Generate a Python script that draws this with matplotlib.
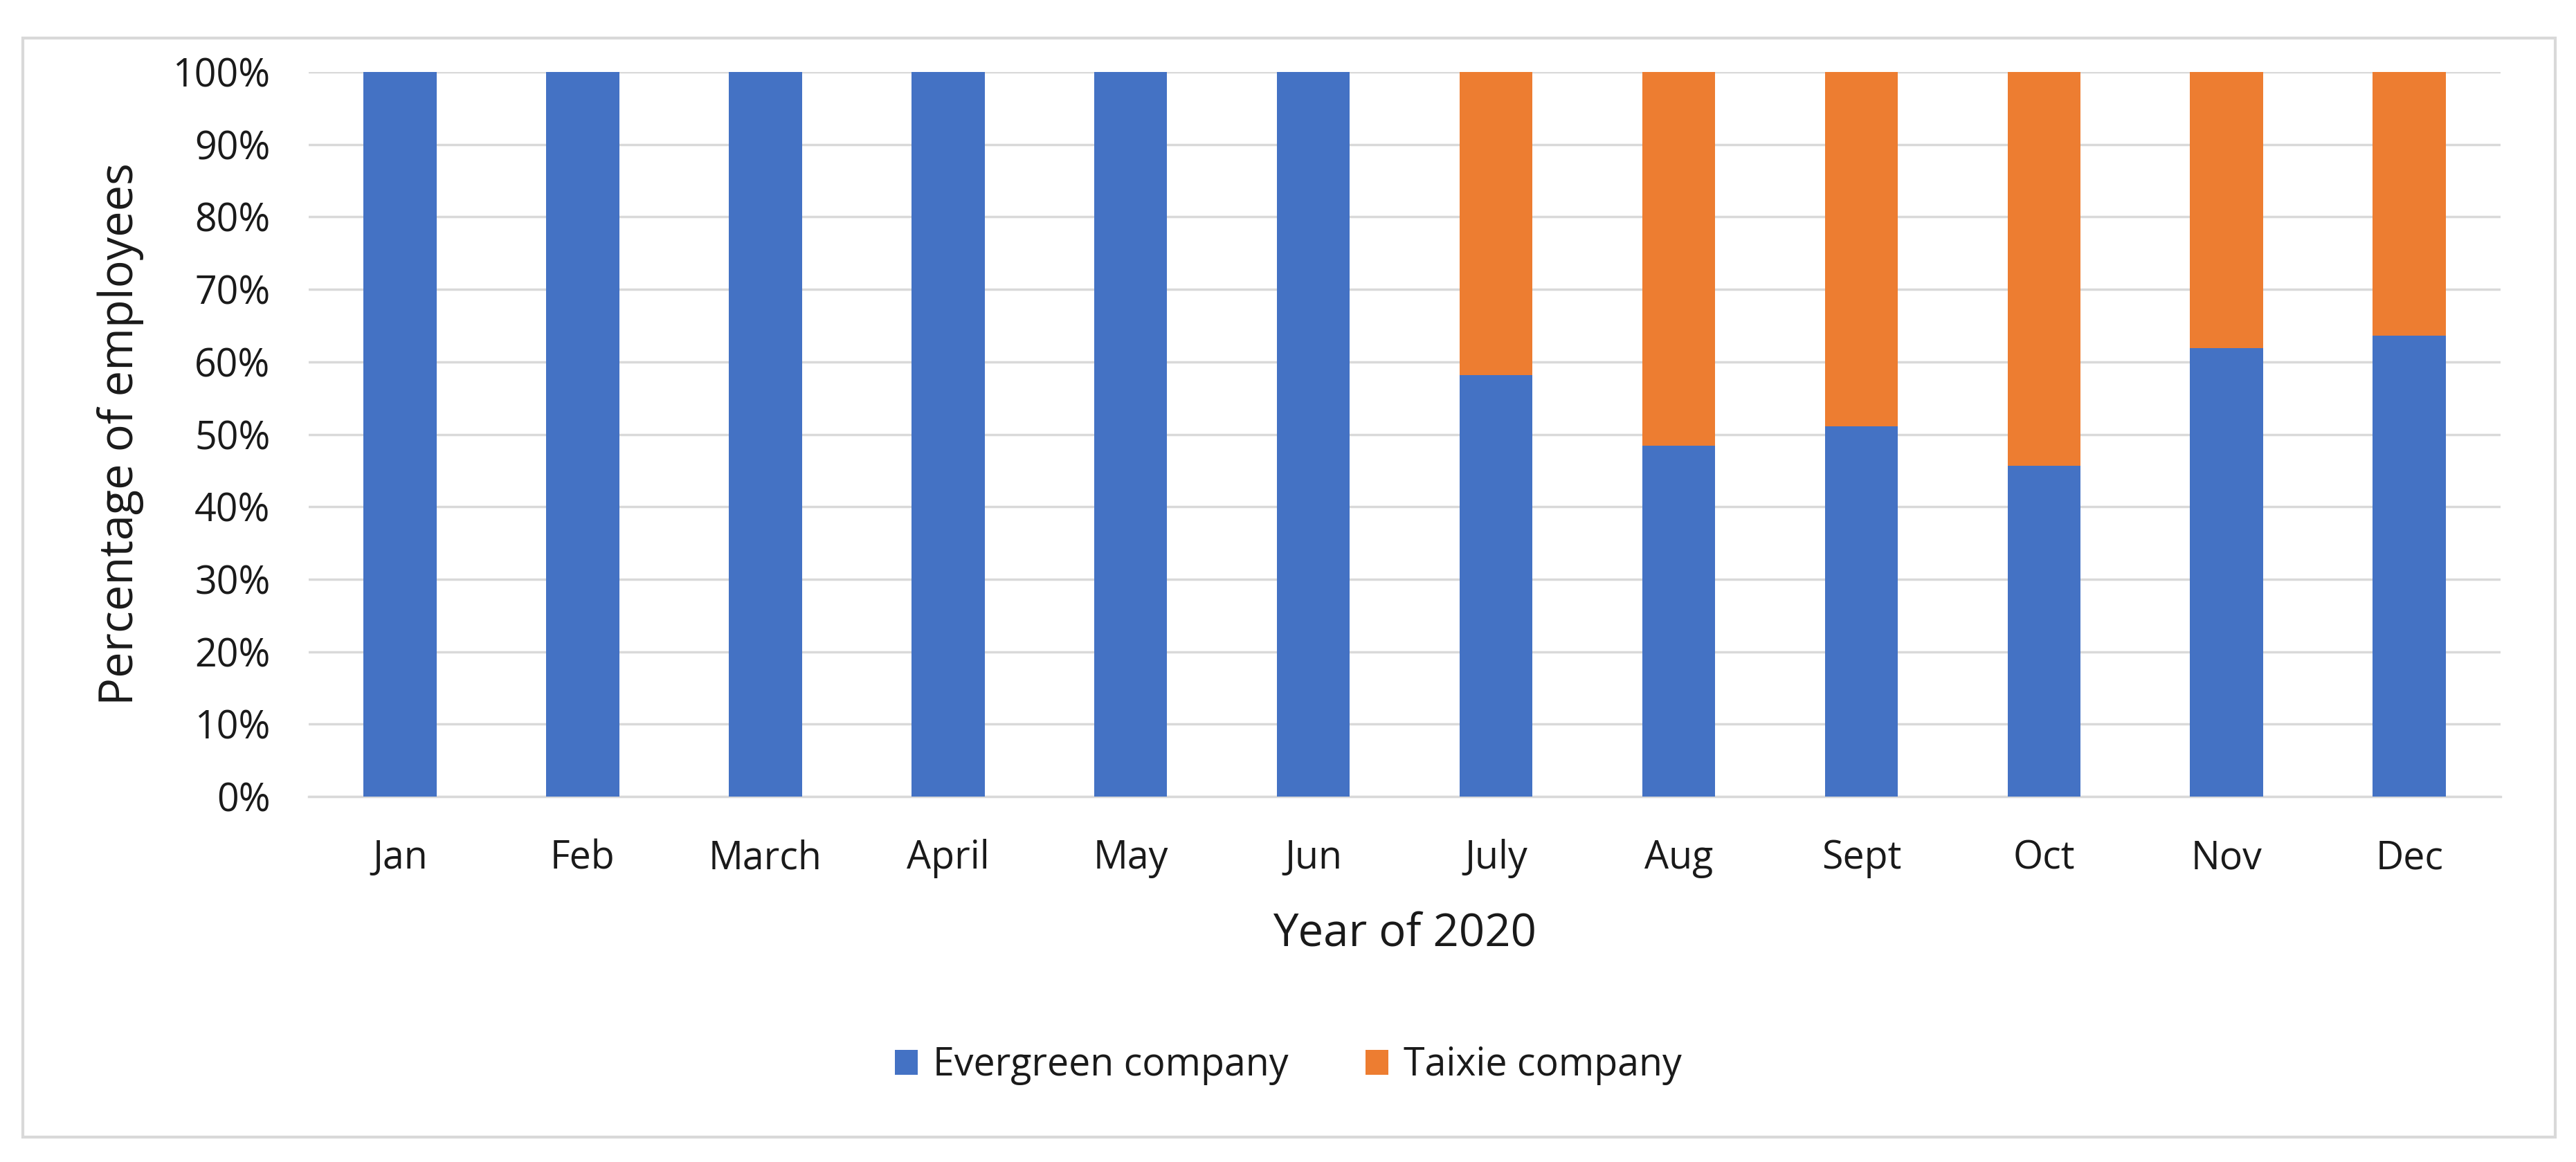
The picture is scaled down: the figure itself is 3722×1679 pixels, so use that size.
import matplotlib
matplotlib.use("Agg")
import matplotlib.pyplot as plt
from matplotlib.patches import Rectangle
from matplotlib.ticker import FuncFormatter

months = ["Jan", "Feb", "March", "April", "May", "Jun", "July", "Aug", "Sept", "Oct", "Nov", "Dec"]
evergreen = [100, 100, 100, 100, 100, 100, 58.2, 48.4, 51.1, 45.7, 61.9, 63.6]
taixie = [0, 0, 0, 0, 0, 0, 41.8, 51.6, 48.9, 54.3, 38.1, 36.4]
series_names = ["Evergreen company", "Taixie company"]
yticks = [0, 10, 20, 30, 40, 50, 60, 70, 80, 90, 100]

plt.rcParams['font.family'] = ['Open Sans', 'DejaVu Sans']
BLUE = "#4472C4"
ORANGE = "#ED7D31"
TXT = "#1A1A1A"
GRID = "#D9D9D9"

fig = plt.figure(figsize=(37.23, 16.79), dpi=100)
ax = fig.add_axes([0.1198, 0.3145, 0.8507, 0.6235])

x = list(range(len(months)))
ax.bar(x, evergreen, width=0.4, color=BLUE, label=series_names[0], zorder=3)
ax.bar(x, taixie, width=0.4, bottom=evergreen, color=ORANGE, label=series_names[1], zorder=3)

ax.set_xlim(-0.5, len(months) - 0.5)
ax.set_ylim(0, 100)
ax.set_yticks(yticks)
ax.yaxis.set_major_formatter(FuncFormatter(lambda v, p: f"{int(v)}%"))
ax.set_xticks(x)
ax.set_xticklabels(months)
ax.tick_params(axis='both', length=0, labelsize=40, colors=TXT)
ax.tick_params(axis='x', pad=44)
ax.tick_params(axis='y', pad=40)
ax.grid(axis='y', color=GRID, linewidth=2.5, zorder=0)
ax.set_axisbelow(True)
for s in ["top", "right", "left"]:
    ax.spines[s].set_visible(False)
ax.spines["bottom"].set_color(GRID)
ax.spines["bottom"].set_linewidth(2.5)

ax.set_ylabel("Percentage of employees", fontsize=48, color=TXT, labelpad=30)
ax.set_xlabel("Year of 2020", fontsize=47, color=TXT, labelpad=34)

leg = fig.legend(loc="center", bbox_to_anchor=(0.5, 1 - 1540 / 1679), ncol=2, frameon=False,
                 fontsize=40, handlelength=0.6, handleheight=0.6, columnspacing=2.0, handletextpad=0.4)
for t in leg.get_texts():
    t.set_color(TXT)

fig.patches.append(Rectangle((33 / 3723, 1 - 1643 / 1679), (3692 - 33) / 3723, (1643 - 55) / 1679,
                             transform=fig.transFigure, fill=False, edgecolor=GRID, linewidth=3))

fig.savefig("out.png", dpi=100, facecolor="white")
